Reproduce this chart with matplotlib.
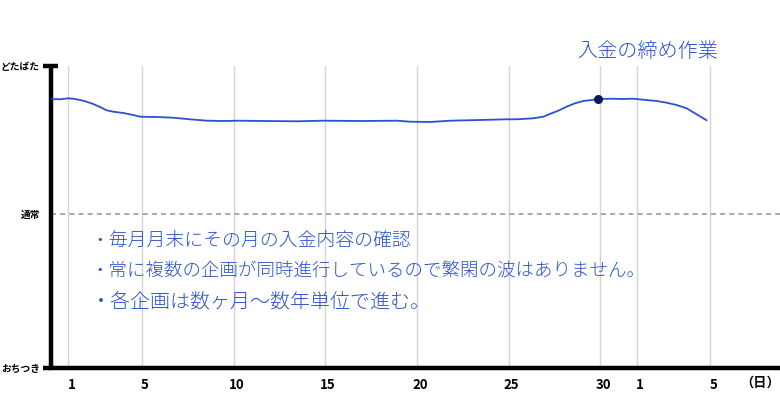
import matplotlib
matplotlib.use("Agg")
import matplotlib.pyplot as plt
from matplotlib.transforms import ScaledTranslation

plt.rcParams['font.family'] = ['Noto Sans CJK JP', 'DejaVu Sans']

# ---- data ----
# x: day index (1..31 = this month, 32.. = next month days 1..)
curve_x = [0.10, 0.54, 0.99, 1.26, 1.63, 1.99, 2.35, 2.72, 3.08, 3.44, 3.99,
           4.53, 4.90, 5.81, 6.71, 7.62, 8.54, 9.44, 10.35, 11.62, 13.44,
           14.89, 17.07, 18.90, 19.62, 20.71, 21.80, 23.44, 24.89, 25.44,
           26.34, 26.89, 27.25, 27.71, 28.16, 28.62, 29.07, 29.53, 29.89,
           30.53, 31.25, 31.80, 32.34, 33.07, 33.62, 34.16, 34.71, 35.25, 35.80]
curve_y = [89.07, 88.97, 89.30, 89.17, 88.74, 88.18, 87.42, 86.42, 85.33, 84.87,
           84.44, 83.77, 83.21, 83.11, 82.88, 82.35, 81.89, 81.79, 81.89, 81.79,
           81.69, 81.89, 81.79, 81.89, 81.56, 81.46, 81.89, 82.12, 82.35, 82.35,
           82.68, 83.21, 84.11, 85.20, 86.52, 87.65, 88.41, 88.74, 89.07, 89.17,
           89.07, 89.17, 88.84, 88.41, 87.85, 87.09, 85.99, 84.01, 82.02]
marker_x = [29.9]
marker_y = [89.2]

tick_pos = [1, 5, 10, 15, 20, 25, 30, 32, 36]
tick_labels = ['1', '5', '10', '15', '20', '25', '30', '1', '5']
unit_label = '（日）'
unit_pos = 38.7

level_vals = [0, 51, 100]
level_labels = ['おちつき', '通常', 'どたばた']

notes = ['・毎月月末にその月の入金内容の確認',
         '・常に複数の企画が同時進行しているので繁閑の波はありません。',
         '・各企画は数ヶ月〜数年単位で進む。']
note_y = [42, 32.1, 21.9]
note_sizes = [13.6, 13.3, 14.4]
note_x = 2.2
peak_note = '入金の締め作業'
peak_note_pos = (32.6, 104.7)

blue = '#2b50d0'

fig = plt.figure(figsize=(7.8, 4.0), dpi=100)
ax = fig.add_axes([51/780, 1-368/400, 1-51/780, (368-66)/400])
ax.set_xlim(0.046, 39.8)
ax.set_ylim(0, 100)

# grid
for p in tick_pos:
    ax.axvline(p, color='#d4d4d4', lw=1.0, zorder=0)
ax.axhline(level_vals[1], color='#999999', lw=1.2, ls=(0, (3, 2.5)), zorder=1)

ax.plot(curve_x, curve_y, color=blue, lw=1.3, zorder=3,
        solid_joinstyle='round', solid_capstyle='round')
ax.plot(marker_x, marker_y, 'o', color='#0d1a55', ms=5.5, zorder=4)

# axes
for s in ['top', 'right']:
    ax.spines[s].set_visible(False)
ax.spines['left'].set_linewidth(3.2)
ax.spines['bottom'].set_linewidth(3.2)
ax.spines['left'].set_capstyle('butt')
ax.plot([-0.011, 0.009], [1, 1], color='black', lw=3.2, transform=ax.transAxes,
        clip_on=False, solid_capstyle='butt')
ax.plot([-0.011, 0.0], [0, 0], color='black', lw=3.2, transform=ax.transAxes,
        clip_on=False, solid_capstyle='butt')

ax.set_xticks(tick_pos)
ax.set_xticklabels(tick_labels, fontsize=9.5, fontweight='bold')
ax.tick_params(axis='x', length=0, pad=7)
off = ScaledTranslation(3/100, 0, fig.dpi_scale_trans)
for lbl in ax.get_xticklabels():
    lbl.set_transform(lbl.get_transform() + off)
ax.set_yticks(level_vals)
ax.set_yticklabels(level_labels, fontsize=7, fontweight='bold')
ax.tick_params(axis='y', length=0, pad=8)
ax.text(unit_pos, -5.0, unit_label, fontsize=9.5, fontweight='bold',
        ha='center', va='center', clip_on=False)

for t, yv, fs in zip(notes, note_y, note_sizes):
    ax.text(note_x, yv, t, fontsize=fs, color=blue, ha='left', va='center',
            fontweight='light')
ax.text(peak_note_pos[0], peak_note_pos[1], peak_note, fontsize=14.5, color=blue,
        ha='center', va='center', fontweight='light', clip_on=False)

fig.savefig('out.png', dpi=100)
